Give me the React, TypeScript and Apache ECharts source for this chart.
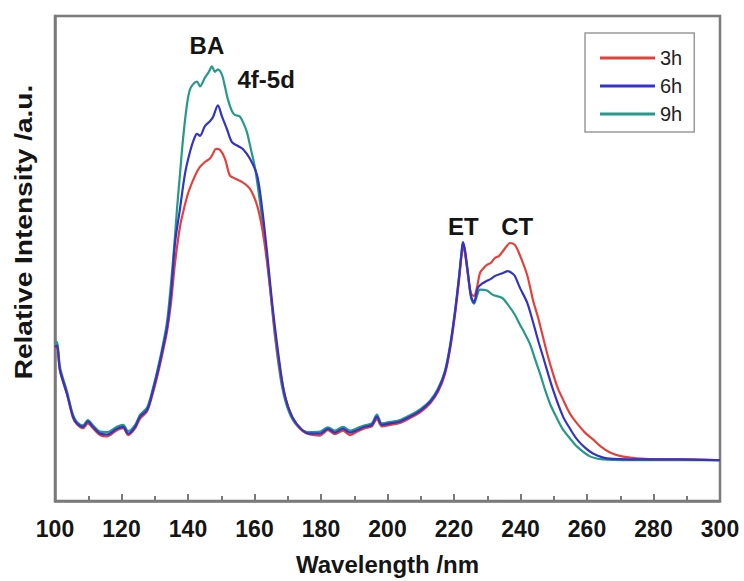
import React, { useEffect, useRef } from "react";
import * as echarts from "echarts";

const xTicks = [100, 120, 140, 160, 180, 200, 220, 240, 260, 280, 300];
const seriesNames = ["3h", "6h", "9h"];
const seriesColors = ["#e5403c", "#3434c4", "#25998a"];

const data3h: number[][] = [
  [100, 31.5], [100.6, 31.8], [101.5, 26.8], [103.6, 22.0], [105.4, 17.2], [106.6, 15.8], [108.4, 15.0],
  [109.9, 16.0], [111.4, 15.0], [113.5, 13.6], [115.6, 13.3], [118.6, 14.6], [120.5, 15.0], [122, 13.6],
  [124.1, 15.0], [125.6, 17.0], [127.7, 18.5], [129.5, 22.4], [131, 26.4], [132.5, 31.0], [133.7, 35.0],
  [134.9, 40.9], [136.1, 49.1], [137.6, 56.6], [138.8, 60.3], [140, 63.4], [141.5, 66.1], [142.7, 67.9],
  [143.6, 68.9], [145.1, 69.9], [146.6, 70.6], [147.5, 71.6], [148.4, 72.6], [149.6, 72.4], [151.1, 70.6],
  [152.6, 67.1], [154.1, 66.5], [156.2, 65.8], [158.6, 64.4], [160.8, 60.9], [162.3, 56.2], [163.8, 49.1],
  [165.3, 39.9], [167.1, 29.7], [169.2, 21.5], [171.6, 17.0], [174.3, 14.5], [176.7, 13.7], [179.7, 13.5],
  [182.1, 14.6], [184.2, 13.8], [186.6, 14.5], [188.7, 13.6], [191.1, 14.4], [193.2, 15.0], [195.3, 15.4],
  [196.8, 16.9], [198.3, 15.4], [200.8, 15.7], [203.8, 16.1], [206.8, 17.1], [209.8, 18.3], [212.8, 20.1],
  [215.2, 22.5], [217.3, 26.2], [218.8, 31.2], [220.3, 38.4], [221.5, 45.4], [222.4, 51.4], [222.7, 52.6],
  [223.3, 51.0], [224.2, 46.5], [225.1, 42.8], [226, 42.3], [226.9, 44.0], [227.8, 47.0], [229, 48.1],
  [229.9, 48.7], [231.1, 49.1], [232.3, 50.1], [233.5, 50.5], [234.7, 51.5], [235.9, 52.6], [236.8, 53.2],
  [238.3, 52.8], [239.8, 50.7], [242, 46.6], [243.8, 41.3], [245.3, 37.8], [246.8, 33.7], [248.3, 29.7],
  [249.8, 26.2], [251.3, 23.1], [252.8, 20.9], [254.9, 18.0], [257, 16.0], [259.4, 14.1], [261.8, 12.7],
  [264.2, 11.2], [266.9, 10.0], [270.5, 9.2], [275, 8.8], [281.9, 8.6], [291, 8.6], [300, 8.4],
];

const data6h: number[][] = [
  [100, 31.8], [100.6, 32.1], [101.5, 27.0], [103.6, 22.1], [105.4, 17.4], [106.6, 16.0], [108.4, 15.3],
  [109.9, 16.4], [111.4, 15.3], [113.5, 13.9], [115.6, 13.7], [118.6, 14.9], [120.5, 15.3], [122, 13.9],
  [124.1, 15.3], [125.6, 17.4], [127.7, 18.8], [129.5, 22.9], [131, 27.0], [132.5, 31.7], [133.7, 35.8],
  [134.9, 42.9], [136.1, 53.2], [137.6, 60.3], [139.1, 67.5], [140.6, 72.0], [141.8, 74.6], [142.7, 75.7],
  [143.6, 75.3], [145.1, 77.3], [146.6, 78.3], [147.5, 79.1], [149, 81.6], [150.2, 79.3], [151.7, 76.7],
  [153.2, 74.0], [155, 73.2], [156.5, 72.6], [158.6, 70.6], [160.8, 67.1], [162.3, 60.3], [163.8, 51.1],
  [165.3, 40.9], [167.1, 30.7], [168.9, 22.5], [171.3, 17.4], [174.3, 14.7], [176.7, 13.9], [179.7, 13.9],
  [182.1, 14.9], [184.2, 14.1], [186.6, 14.9], [188.7, 14.1], [191.1, 14.7], [193.2, 15.3], [195.3, 15.7],
  [196.8, 17.4], [198.3, 15.7], [200.8, 16.0], [203.8, 16.4], [206.8, 17.4], [209.8, 18.6], [212.8, 20.4],
  [215.2, 22.9], [217.3, 26.6], [218.8, 31.7], [220.3, 38.9], [221.5, 46.0], [222.4, 52.1], [222.7, 53.4],
  [223.3, 51.7], [224.2, 47.0], [225.1, 42.3], [226, 40.9], [227.2, 44.0], [228.4, 44.8], [229.9, 45.4],
  [231.1, 45.8], [232.3, 46.4], [234.7, 47.0], [236.2, 47.4], [237.4, 47.0], [238.3, 46.4], [239.8, 44.0],
  [242, 40.9], [243.8, 36.8], [245.3, 33.1], [246.8, 29.7], [249.8, 22.9], [252.8, 17.4], [254.9, 14.9],
  [257, 12.7], [259.4, 11.0], [261.8, 9.8], [266, 8.8], [276, 8.6], [288, 8.6], [300, 8.4],
];

const data9h: number[][] = [
  [100, 32.4], [100.6, 32.8], [101.5, 27.6], [103.6, 22.6], [105.4, 17.8], [106.6, 16.3], [108.4, 15.6],
  [109.9, 16.7], [111.4, 15.6], [113.5, 14.3], [115.6, 14.2], [118.6, 15.3], [120.5, 15.7], [122, 14.4],
  [124.1, 15.7], [125.6, 17.8], [127.7, 19.3], [129.5, 23.4], [131, 27.6], [132.5, 32.4], [133.7, 37.0],
  [134.9, 45.0], [135.8, 52.1], [136.7, 60.3], [137.6, 67.5], [138.5, 74.6], [139.7, 81.8], [140.6, 84.9],
  [141.5, 85.9], [142.7, 86.5], [143.6, 85.5], [145.1, 87.3], [146.3, 88.5], [147.2, 89.6], [148.1, 88.5],
  [149, 89.0], [150.2, 87.9], [151.1, 85.5], [152, 82.8], [153.2, 80.4], [154.1, 79.6], [155.6, 79.3],
  [156.8, 77.7], [157.7, 76.1], [158.9, 72.6], [160.2, 68.5], [161.7, 61.3], [163.2, 53.2], [164.7, 44.0],
  [166.2, 33.7], [168.3, 23.5], [170.7, 17.8], [173.7, 14.9], [176.7, 14.2], [179.7, 14.3], [182.1, 15.2],
  [184.2, 14.5], [186.6, 15.3], [188.7, 14.5], [191.1, 15.1], [193.2, 15.6], [195.3, 16.0], [196.8, 17.8],
  [198.3, 16.0], [200.8, 16.3], [203.8, 16.7], [206.8, 17.7], [209.8, 18.9], [212.8, 20.7], [215.2, 23.2],
  [217.3, 26.9], [218.8, 32.0], [220.3, 39.2], [221.5, 46.2], [222.4, 52.0], [222.7, 53.1], [223.3, 51.5],
  [224.2, 46.8], [225.1, 42.0], [226, 40.7], [226.9, 42.3], [227.8, 43.6], [229.9, 43.4], [231.7, 42.5],
  [234.4, 41.9], [236.2, 40.5], [238.3, 38.4], [239.8, 36.4], [241.4, 34.4], [242.9, 32.3], [244.4, 29.2],
  [245.9, 26.2], [247.4, 22.9], [248.9, 20.0], [250.7, 17.4], [252.8, 14.7], [254.9, 12.9], [257, 11.2],
  [260.9, 9.2], [264.8, 8.6], [279, 8.4], [300, 8.4],
];

const annotations = [
  { name: "BA", value: [145.7, 94.0] },
  { name: "4f-5d", value: [163.5, 86.9] },
  { name: "ET", value: [222.8, 56.6] },
  { name: "CT", value: [239.0, 56.6] },
];

export default function App() {
  const ref = useRef<HTMLDivElement>(null);
  useEffect(() => {
    document.body.style.margin = "0";
    const chart = echarts.init(ref.current!, undefined, { renderer: "svg" });
    const font = "Liberation Sans, Arial, Helvetica, sans-serif";
    const seriesData = [data3h, data6h, data9h];
    const order = [2, 0, 1];
    const lineSeries = order.map((i) => ({
      name: seriesNames[i],
      type: "line",
      data: seriesData[i],
      showSymbol: false,
      symbol: "none",
      smooth: 0.3,
      lineStyle: { color: seriesColors[i], width: 2.2 },
      itemStyle: { color: seriesColors[i] },
      z: 2 + order.indexOf(i),
    }));
    chart.setOption({
      animation: false,
      backgroundColor: "#ffffff",
      grid: {
        left: 55,
        right: 24,
        top: 16,
        bottom: 76,
        show: true,
        borderColor: "#7a7a7a",
        borderWidth: 2.5,
        backgroundColor: "transparent",
      },
      legend: {
        data: seriesNames,
        orient: "vertical",
        left: 585,
        top: 33,
        padding: [15, 12, 8, 15],
        itemGap: 8,
        itemWidth: 55,
        itemHeight: 3,
        icon: "rect",
        borderColor: "#9a9a9a",
        borderWidth: 1.5,
        backgroundColor: "#ffffff",
        textStyle: { fontFamily: font, fontSize: 20, color: "#222", lineHeight: 20 },
      },
      xAxis: {
        type: "value",
        min: 100,
        max: 300,
        interval: 20,
        axisLine: { show: true, lineStyle: { color: "#7a7a7a", width: 2.5 } },
        axisTick: { show: true, inside: true, length: 7, lineStyle: { color: "#7a7a7a", width: 2 } },
        minorTick: { show: true, splitNumber: 2, length: 5, lineStyle: { color: "#7a7a7a", width: 2 } },
        splitLine: { show: false },
        axisLabel: {
          margin: 16,
          fontFamily: font,
          fontSize: 23,
          fontWeight: "bold",
          color: "#151515",
          formatter: (v: number) => (xTicks.includes(v) ? String(v) : ""),
        },
        name: "Wavelength /nm",
        nameLocation: "middle",
        nameGap: 51,
        nameTextStyle: { fontFamily: font, fontSize: 24, fontWeight: "bold", color: "#151515" },
      },
      yAxis: {
        type: "value",
        min: 0,
        max: 100,
        axisLine: { show: true, lineStyle: { color: "#7a7a7a", width: 2.5 } },
        axisTick: { show: false },
        axisLabel: { show: false },
        splitLine: { show: false },
      },
      graphic: [
        {
          type: "text",
          x: 24,
          y: 232,
          rotation: Math.PI / 2,
          scaleX: 1.22,
          style: {
            text: "Relative Intensity /a.u.",
            fontFamily: font,
            fontSize: 23,
            fontWeight: "bold",
            fill: "#151515",
            textAlign: "center",
            textVerticalAlign: "middle",
          },
        },
      ],
      series: [
        ...lineSeries,
        {
          name: "annotations",
          type: "scatter",
          data: annotations,
          symbolSize: 0,
          itemStyle: { color: "#151515", opacity: 1 },
          silent: true,
          z: 10,
          label: {
            show: true,
            position: [0, 0],
            align: "center",
            verticalAlign: "middle",
            formatter: "{b}",
            fontFamily: font,
            fontSize: 24,
            fontWeight: "bold",
            color: "#151515",
            opacity: 1,
          },
        },
      ],
    });
    return () => chart.dispose();
  }, []);
  return <div ref={ref} style={{ width: 744, height: 581 }} />;
}
